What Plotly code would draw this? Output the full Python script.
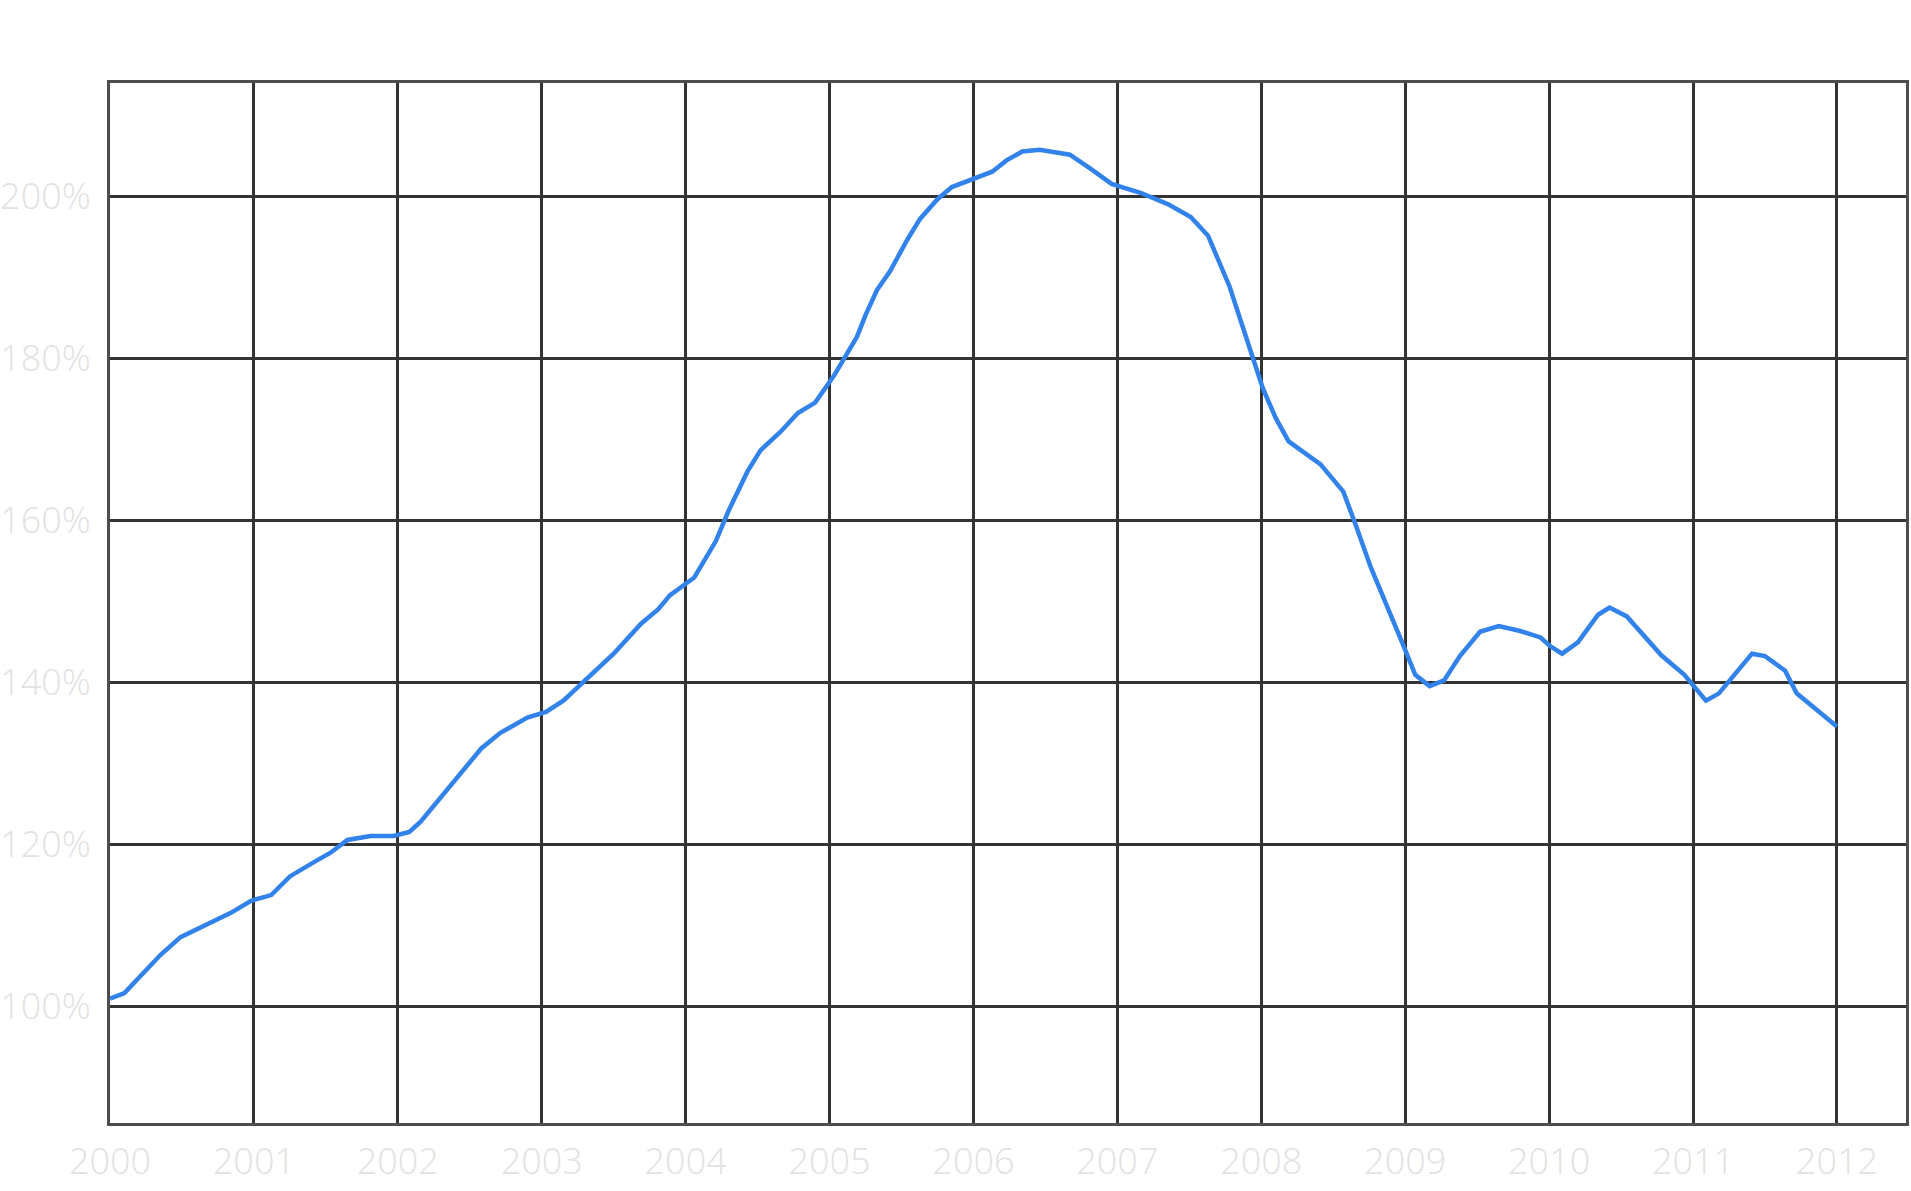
import plotly.graph_objects as go

# decimal year of each vertex of the line
years = [
    2000.00, 2000.10, 2000.35, 2000.49, 2000.84, 2000.98, 2001.12, 2001.25,
    2001.42, 2001.53, 2001.65, 2001.81, 2001.97, 2002.08, 2002.16, 2002.58,
    2002.71, 2002.90, 2003.03, 2003.15, 2003.50, 2003.69, 2003.81, 2003.89,
    2004.06, 2004.21, 2004.30, 2004.43, 2004.52, 2004.66, 2004.78, 2004.90,
    2005.03, 2005.19, 2005.25, 2005.33, 2005.42, 2005.54, 2005.63, 2005.75,
    2005.85, 2006.00, 2006.13, 2006.23, 2006.34, 2006.46, 2006.67, 2006.81,
    2006.96, 2007.16, 2007.35, 2007.51, 2007.63, 2007.78, 2007.94, 2008.01,
    2008.10, 2008.19, 2008.41, 2008.57, 2008.66, 2008.76, 2008.99, 2009.07,
    2009.17, 2009.27, 2009.38, 2009.52, 2009.65, 2009.80, 2009.94, 2010.01,
    2010.09, 2010.20, 2010.34, 2010.42, 2010.54, 2010.67, 2010.78, 2010.94,
    2010.99, 2011.09, 2011.18, 2011.41, 2011.50, 2011.64, 2011.72, 2012.00,
]

# index level in percent of January 2000
index_pct = [
    100.9, 101.6, 106.3, 108.5, 111.5, 113.0, 113.7, 116.0,
    117.8, 118.9, 120.5, 121.0, 121.0, 121.5, 122.8, 131.8,
    133.7, 135.6, 136.3, 137.7, 143.5, 147.2, 149.0, 150.7,
    152.9, 157.4, 161.2, 166.0, 168.6, 170.9, 173.2, 174.5,
    177.8, 182.6, 185.3, 188.4, 190.7, 194.6, 197.2, 199.6,
    201.1, 202.1, 203.0, 204.4, 205.5, 205.7, 205.1, 203.4,
    201.5, 200.4, 199.0, 197.4, 195.1, 188.8, 180.2, 176.3,
    172.6, 169.7, 166.9, 163.5, 159.2, 154.2, 144.4, 140.9,
    139.5, 140.2, 143.2, 146.2, 146.9, 146.3, 145.5, 144.4,
    143.5, 144.9, 148.3, 149.2, 148.1, 145.6, 143.3, 140.9,
    139.8, 137.7, 138.6, 143.5, 143.2, 141.4, 138.6, 134.5,
]

year_ticks = list(range(2000, 2013))
pct_ticks = [100, 120, 140, 160, 180, 200]

tick_font = dict(family='Open Sans', size=36, color='#e2e2e2', weight=300)

fig = go.Figure()
fig.add_trace(go.Scatter(
    x=years,
    y=index_pct,
    mode='lines',
    line=dict(color='#3182ea', width=4.5),
    showlegend=False,
))

axis_style = dict(
    showgrid=True,
    gridcolor='#333333',
    gridwidth=3,
    zeroline=False,
    showline=True,
    linecolor='#4d4d4d',
    linewidth=3,
    mirror=True,
    ticks='',
    tickfont=tick_font,
    automargin=False,
)

fig.update_layout(
    width=1911,
    height=1191,
    margin=dict(l=110, r=5, t=83, b=68),
    paper_bgcolor='white',
    plot_bgcolor='white',
    xaxis=dict(
        range=[2000, 2012.48],
        tickvals=year_ticks,
        ticktext=[str(y) for y in year_ticks],
        ticklabelstandoff=5,
        **axis_style,
    ),
    yaxis=dict(
        range=[85.56, 213.95],
        tickvals=pct_ticks,
        ticktext=[f'{v}%' for v in pct_ticks],
        ticklabelstandoff=9,
        **axis_style,
    ),
)

# drop the default body margin so the figure sits flush with the window
fig.write_html(
    'out.html',
    config={'displayModeBar': False},
    post_script="document.body.style.margin = '0';",
)
